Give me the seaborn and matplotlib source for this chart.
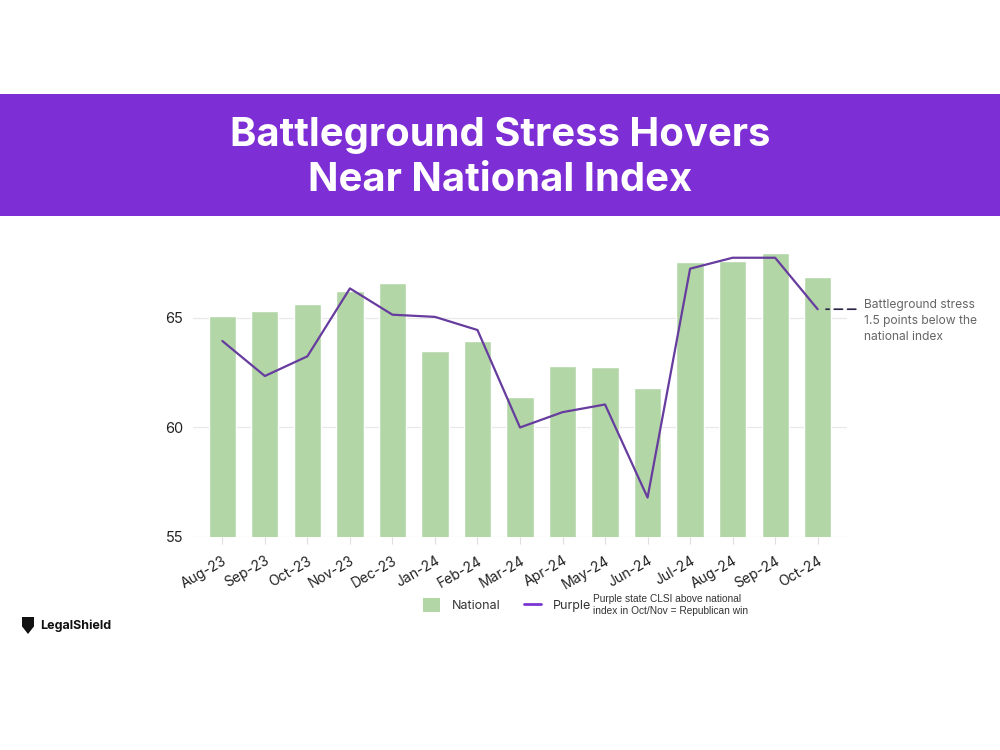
import matplotlib
matplotlib.use("Agg")
import matplotlib.pyplot as plt
import seaborn as sns
import numpy as np
import pandas as pd
from matplotlib.patches import Rectangle, PathPatch
from matplotlib.path import Path
from matplotlib.lines import Line2D

months = ["Aug-23", "Sep-23", "Oct-23", "Nov-23", "Dec-23", "Jan-24", "Feb-24",
          "Mar-24", "Apr-24", "May-24", "Jun-24", "Jul-24", "Aug-24", "Sep-24", "Oct-24"]
national = [65.1, 65.3, 65.65, 66.25, 66.6, 63.5, 63.95, 61.4, 62.8, 62.75, 61.8,
            67.55, 67.6, 67.95, 66.85]
purple = [63.95, 62.35, 63.25, 66.35, 65.15, 65.05, 64.45, 60.0, 60.7, 61.05, 56.8,
          67.25, 67.75, 67.75, 65.4]
y_ticks = [55, 60, 65]

title_lines = ["Battleground Stress Hovers", "Near National Index"]
note_text = "Battleground stress\n1.5 points below the\nnational index"
legend_note = "Purple state CLSI above national\nindex in Oct/Nov = Republican win"

BAR = "#B3D6A7"
LINE = "#663C9E"
LEG_LINE = "#7B35D0"
BANNER = "#7D2ED4"

sns.set_theme(style="white")
plt.rcParams["font.family"] = ["Inter", "DejaVu Sans"]

df = pd.DataFrame({"month": months, "national": national, "purple": purple,
                   "pos": np.arange(len(months))})

fig = plt.figure(figsize=(10, 7.5), dpi=100)
fig.patch.set_facecolor("white")

# banner
fig.patches.append(Rectangle((0, 1 - 216 / 750), 1, 122 / 750, transform=fig.transFigure,
                             facecolor=BANNER, edgecolor="none", zorder=0))
fig.text(0.5, 1 - 146 / 750, title_lines[0], ha="center", va="baseline", color="white",
         fontsize=28.8, fontweight="bold")
fig.text(0.5, 1 - 191 / 750, title_lines[1], ha="center", va="baseline", color="white",
         fontsize=28.8, fontweight="bold")

ax = fig.add_axes([0.193, 0.284, 0.654, 0.3884])
sns.barplot(data=df, x="month", y="national", color=BAR, width=0.64, ax=ax,
            label="National", saturation=1, zorder=2)
sns.lineplot(data=df, x="pos", y="purple", color=LINE, linewidth=1.6, ax=ax,
             label="Purple", zorder=3, sort=False)

ax.set_ylim(55, 68.3)
ax.set_xlim(-0.69, 14.69)
ax.set_yticks(y_ticks)
ax.set_yticklabels([str(t) for t in y_ticks], fontsize=10.5, color="#222222")
ax.set_xticks(np.arange(len(months)))
ax.set_xticklabels(months, rotation=30, ha="right", rotation_mode="anchor",
                   fontsize=10, color="#222222")
ax.tick_params(axis="x", length=5, color="#dddddd", width=0.8, pad=7, bottom=True)
ax.tick_params(axis="y", length=0, pad=7)
ax.grid(axis="y", color="#e8e8e8", linewidth=0.9, zorder=0)
ax.set_axisbelow(True)
for s in ax.spines.values():
    s.set_visible(False)
ax.set_xlabel("")
ax.set_ylabel("")

# annotation dashed connector
ax.annotate("", xy=(14, purple[-1]), xycoords="data",
            xytext=(27.5, 0), textcoords="offset points",
            arrowprops=dict(arrowstyle="-", color="#2a2145", linestyle=(0, (5, 3)),
                            linewidth=1.2, shrinkA=0, shrinkB=6))
fig.text(864 / 1000, 1 - 299 / 750, note_text, ha="left", va="top", fontsize=8.7,
         color="#666666", linespacing=1.45)

# legend
handles = [Rectangle((0, 0), 1, 1, facecolor=BAR, edgecolor="none"),
           Line2D([0], [0], color=LEG_LINE, linewidth=2)]
ax.legend(handles, ["National", "Purple"], loc="center left",
          bbox_to_anchor=(0.423, 1 - 605 / 750), bbox_transform=fig.transFigure,
          ncol=2, frameon=False, fontsize=9, handlelength=1.36, handleheight=1.36,
          columnspacing=1.9, handletextpad=0.95, labelcolor="#333333",
          borderpad=0, borderaxespad=0)
fig.text(593 / 1000, 1 - 605 / 750, legend_note, ha="left", va="center", fontsize=7.3,
         color="#333333", linespacing=1.15,
         family=["Liberation Sans Narrow", "Liberation Sans", "DejaVu Sans"])

# logo
sx, sy = 22 / 1000, 1 - 634 / 750
w, h = 12 / 1000, 17 / 750
verts = [(sx, sy + h), (sx + w, sy + h), (sx + w, sy + 0.45 * h),
         (sx + w * 0.5, sy), (sx, sy + 0.45 * h), (sx, sy + h)]
codes = [Path.MOVETO, Path.LINETO, Path.LINETO, Path.LINETO, Path.LINETO, Path.CLOSEPOLY]
fig.patches.append(PathPatch(Path(verts, codes), transform=fig.transFigure,
                             facecolor="#111111", edgecolor="none"))
fig.text(40 / 1000, 1 - 626 / 750, "LegalShield", ha="left", va="center", fontsize=9,
         fontweight="bold", color="#111111")

fig.savefig("out.png", dpi=100, facecolor="white")
